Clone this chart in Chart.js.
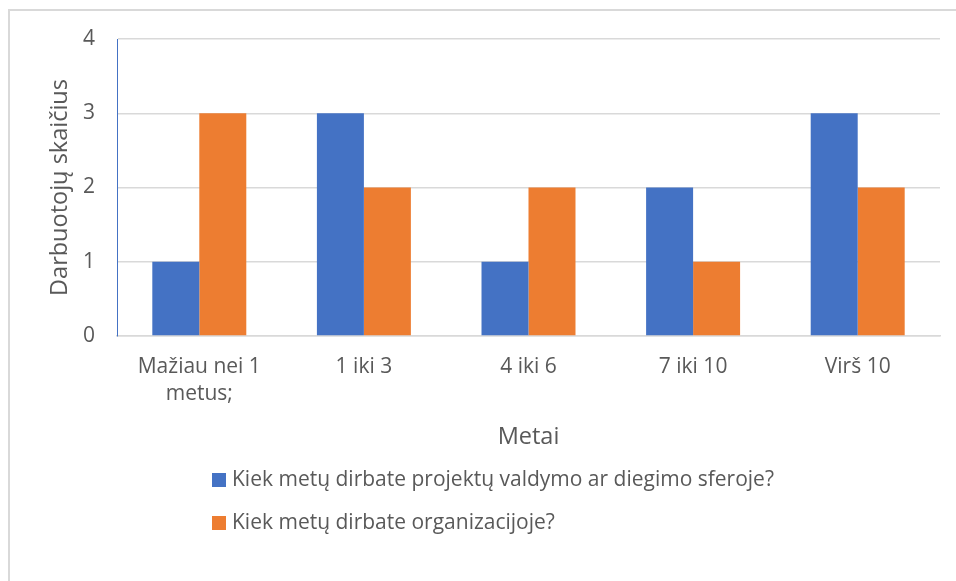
<!DOCTYPE html>
<html>
<head>
<meta charset="utf-8">
<script src="https://cdn.jsdelivr.net/npm/chart.js@4/dist/chart.umd.min.js"></script>
<style>
  html, body { margin: 0; padding: 0; background: #ffffff; }
  #wrap { position: relative; width: 956px; height: 581px; }
</style>
</head>
<body>
<div id="wrap"><canvas id="chart" width="956" height="581"></canvas></div>
<script>
// Years-of-experience groups and respondent counts
const categories = [["Mažiau nei 1", "metus;"], "1 iki 3", "4 iki 6", "7 iki 10", "Virš 10"];
const projectFieldCounts = [1, 3, 1, 2, 3];
const organizationCounts = [3, 2, 2, 1, 2];
const seriesLabels = [
  "Kiek metų dirbate projektų valdymo ar diegimo sferoje?",
  "Kiek metų dirbate organizacijoje?"
];
const yTickValues = [0, 1, 2, 3, 4];
const xAxisTitle = "Metai";
const yAxisTitle = "Darbuotojų skaičius";

const TEXT = '#595959';
const GRID = '#d9d9d9';
const BLUE = '#4472c4';
const ORANGE = '#ed7d31';
const FAMILY = "'Open Sans', 'Noto Sans', sans-serif";
const LABEL_SIZE = 21;
const TITLE_SIZE = 23.5;

Chart.defaults.font.family = FAMILY;
Chart.defaults.color = TEXT;

// light frame around the whole chart
const frame = {
  id: 'frame',
  beforeDraw(chart) {
    const ctx = chart.ctx;
    ctx.save();
    ctx.strokeStyle = GRID;
    ctx.lineWidth = 2;
    ctx.strokeRect(9, 10, 1000, 1000);
    ctx.restore();
  }
};

// legend entries stacked one under another, left aligned
const stackedLegend = {
  id: 'stackedLegend',
  afterDraw(chart) {
    const ctx = chart.ctx;
    ctx.save();
    ctx.font = LABEL_SIZE + 'px ' + FAMILY;
    ctx.textBaseline = 'middle';
    ctx.textAlign = 'left';
    chart.data.datasets.forEach((ds, i) => {
      const y = 480 + i * 43;
      ctx.fillStyle = ds.backgroundColor;
      ctx.fillRect(212, y - 7, 14, 14);
      ctx.fillStyle = TEXT;
      ctx.fillText(ds.label, 232, y);
    });
    ctx.restore();
  }
};

new Chart(document.getElementById('chart'), {
  type: 'bar',
  data: {
    labels: categories,
    datasets: [
      { label: seriesLabels[0], data: projectFieldCounts, backgroundColor: BLUE,
        barPercentage: 1, categoryPercentage: 0.571 },
      { label: seriesLabels[1], data: organizationCounts, backgroundColor: ORANGE,
        barPercentage: 1, categoryPercentage: 0.571 }
    ]
  },
  options: {
    responsive: false,
    animation: false,
    layout: { padding: { top: 39, right: 16, bottom: 130, left: 0 } },
    plugins: {
      legend: { display: false },
      tooltip: { enabled: false }
    },
    scales: {
      x: {
        grid: { display: false },
        border: { color: GRID, width: 1.5 },
        ticks: { color: TEXT, font: { size: LABEL_SIZE, lineHeight: 1.3 }, padding: 9, maxRotation: 0 },
        title: { display: true, text: xAxisTitle, color: TEXT, font: { size: TITLE_SIZE }, padding: 0 },
        afterFit(scale) {
          scale.height = 115;
          scale.paddingLeft = 0;
          scale.paddingRight = 0;
        }
      },
      y: {
        min: 0,
        max: 4,
        afterBuildTicks(scale) {
          scale.ticks = yTickValues.map(v => ({ value: v }));
        },
        grid: { color: GRID, lineWidth: 1.5, drawTicks: false },
        border: { color: BLUE, width: 1 },
        ticks: { color: TEXT, font: { size: LABEL_SIZE }, padding: 22 },
        title: { display: true, text: yAxisTitle, color: TEXT, font: { size: TITLE_SIZE }, padding: { top: 46, bottom: 0 } },
        afterFit(scale) {
          scale.width = 117;
          scale.paddingTop = 0;
          scale.paddingBottom = 0;
        }
      }
    }
  },
  plugins: [frame, stackedLegend]
});
</script>
</body>
</html>
